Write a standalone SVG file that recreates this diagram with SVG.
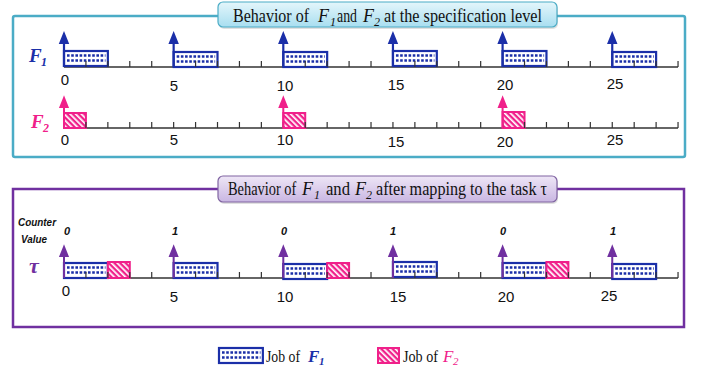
<svg xmlns="http://www.w3.org/2000/svg" xmlns:xlink="http://www.w3.org/1999/xlink" width="703" height="372" viewBox="0 0 703 372">
<style>
.axis{stroke:#333;stroke-width:1.6;fill:none}
.tick{stroke:#333;stroke-width:1.2;fill:none}
.f1box{fill:#fff;stroke:#1b2fa8;stroke-width:2.2}
.dots{stroke:#1b2fa8;stroke-width:2.4;stroke-dasharray:2.6 1.6;fill:none}
.f2box{fill:url(#hatch);stroke:#f0208a;stroke-width:2}
.num{font-family:"Liberation Sans",Arial,sans-serif;font-size:15px;fill:#111;text-anchor:middle}
.cnt{font-family:"Liberation Sans",Arial,sans-serif;font-size:11.5px;font-weight:bold;font-style:italic;fill:#111}
.cv{font-family:"Liberation Sans",Arial,sans-serif;font-size:11px;font-weight:bold;font-style:italic;fill:#111;text-anchor:middle}
.ttl{font-family:"Liberation Serif","Times New Roman",serif;font-size:18px;fill:#111}
.it{font-style:italic}
.sub{font-family:"Liberation Serif","Times New Roman",serif;font-size:12px;font-style:italic;fill:#111}
.lbl{font-family:"Liberation Serif","Times New Roman",serif;font-size:19px;font-style:italic;font-weight:bold}
.tau{font-family:"Liberation Serif","Times New Roman",serif;font-size:22px;font-style:italic;font-weight:bold;fill:#7030a0}
.lsub{font-family:"Liberation Serif","Times New Roman",serif;font-size:12px;font-style:italic;font-weight:bold}
.leg{font-family:"Liberation Serif","Times New Roman",serif;font-size:16px;fill:#111}
.legF{font-family:"Liberation Serif","Times New Roman",serif;font-size:17px;font-style:italic;font-weight:bold}
.legS{font-family:"Liberation Serif","Times New Roman",serif;font-size:11px;font-style:italic;font-weight:bold}
</style>
<defs>
<pattern id="hatch" patternUnits="userSpaceOnUse" width="4" height="4" patternTransform="rotate(-45)">
<rect width="4" height="4" fill="#f0208a"/>
<rect width="1.7" height="4" fill="#fff"/>
</pattern>
<linearGradient id="gTeal" x1="0" y1="0" x2="0" y2="1">
<stop offset="0" stop-color="#e4f6fb"/>
<stop offset="1" stop-color="#a8def0"/>
</linearGradient>
<linearGradient id="gPurp" x1="0" y1="0" x2="0" y2="1">
<stop offset="0" stop-color="#eee6f6"/>
<stop offset="1" stop-color="#c9b6e2"/>
</linearGradient>
<path id="ah" d="M0 0 L-3.6 9 L3.6 9 Z"/>
<path id="ticks" class="tick" d="M85.93 0v-6M107.86 0v-6M129.79 0v-6M151.72 0v-6M173.65 0v-6M195.58 0v-6M217.51 0v-6M239.44 0v-6M261.37 0v-6M283.3 0v-6M305.23 0v-6M327.16 0v-6M349.09 0v-6M371.02 0v-6M392.95 0v-6M414.88 0v-6M436.81 0v-6M458.74 0v-6M480.67 0v-6M502.6 0v-6M524.53 0v-6M546.46 0v-6M568.39 0v-6M590.32 0v-6M612.25 0v-6M634.18 0v-6M656.11 0v-6M678.04 0v-6"/>
<g id="f1job">
<rect class="f1box" x="0" y="0" width="43.86" height="15"/>
<path class="dots" d="M3 4.5H41.5M3 9.5H41.5"/>
</g>
</defs>

<!-- Top panel -->
<g id="panel-spec">
<rect x="13" y="16" width="672" height="141" rx="2" fill="#fff" stroke="#4bacc6" stroke-width="2.5"/>
</g>
<g id="title-spec">
<rect x="219" y="4" width="339" height="25" rx="5" fill="#000" opacity="0.12"/>
<rect x="218" y="2" width="339" height="25" rx="5" fill="url(#gTeal)" stroke="#4bacc6" stroke-width="1.2"/>
<text class="ttl" x="233" y="22" textLength="76" lengthAdjust="spacingAndGlyphs">Behavior of</text>
<text class="ttl it" x="318" y="22">F</text>
<text class="sub" x="330" y="26">1</text>
<text class="ttl" x="337" y="22" textLength="20" lengthAdjust="spacingAndGlyphs">and</text>
<text class="ttl it" x="363" y="22">F</text>
<text class="sub" x="374" y="26">2</text>
<text class="ttl" x="384" y="22" textLength="158" lengthAdjust="spacingAndGlyphs">at the specification level</text>
</g>

<g id="row-F1">
<text class="lbl" x="29" y="62" fill="#1b2fa8">F</text>
<text class="lsub" x="41" y="66" fill="#1b2fa8">1</text>
<line class="axis" x1="64" y1="67" x2="678" y2="67"/>
<use href="#f1job" x="64" y="51"/>
<use href="#f1job" x="173.65" y="52"/>
<use href="#f1job" x="283.3" y="52"/>
<use href="#f1job" x="392.95" y="51"/>
<use href="#f1job" x="502.6" y="51"/>
<use href="#f1job" x="612.25" y="52"/>
<use href="#ticks" y="67"/>
<g stroke="#1b2fa8" stroke-width="2.2" fill="#1b2fa8">
<path d="M64 67V42M173.65 67V42M283.3 67V42M392.95 67V42M502.6 67V42M612.25 67V42"/>
<use href="#ah" x="64" y="34"/><use href="#ah" x="173.65" y="34"/><use href="#ah" x="283.3" y="34"/><use href="#ah" x="392.95" y="34"/><use href="#ah" x="502.6" y="34"/><use href="#ah" x="612.25" y="34"/>
</g>
<text class="num" x="65" y="85">0</text>
<text class="num" x="174" y="91">5</text>
<text class="num" x="285" y="91">10</text>
<text class="num" x="396" y="90">15</text>
<text class="num" x="505" y="90">20</text>
<text class="num" x="615" y="89">25</text>
</g>

<g id="row-F2">
<text class="lbl" x="31" y="128" fill="#f0208a">F</text>
<text class="lsub" x="43" y="132" fill="#f0208a">2</text>
<line class="axis" x1="64" y1="128" x2="678" y2="128"/>
<rect class="f2box" x="64" y="113" width="21.93" height="15"/>
<rect class="f2box" x="283.3" y="113" width="21.93" height="15"/>
<rect class="f2box" x="502.6" y="112" width="21.93" height="16"/>
<use href="#ticks" y="128"/>
<g stroke="#f0208a" stroke-width="2" fill="#f0208a">
<path d="M64 128V106M283.3 128V106M502.6 128V106"/>
<use href="#ah" x="64" y="98"/><use href="#ah" x="283.3" y="98"/><use href="#ah" x="502.6" y="98"/>
</g>
<text class="num" x="65" y="145">0</text>
<text class="num" x="174" y="145">5</text>
<text class="num" x="285" y="145">10</text>
<text class="num" x="396" y="147">15</text>
<text class="num" x="505" y="147">20</text>
<text class="num" x="615" y="145">25</text>
</g>

<!-- Bottom panel -->
<g id="panel-task">
<rect x="13" y="189" width="671" height="138" fill="#fff" stroke="#7030a0" stroke-width="2.5"/>
</g>
<g id="title-task">
<rect x="219" y="178" width="339" height="26" rx="5" fill="#000" opacity="0.12"/>
<rect x="218" y="176" width="339" height="26" rx="5" fill="url(#gPurp)" stroke="#8064a2" stroke-width="1.2"/>
<text class="ttl" transform="translate(228 195) scale(0.8 1)" x="0" y="0">Behavior of</text>
<text class="ttl it" x="302" y="195">F</text>
<text class="sub" x="314" y="199">1</text>
<text class="ttl" x="326" y="195" textLength="24" lengthAdjust="spacingAndGlyphs">and</text>
<text class="ttl it" x="355" y="195">F</text>
<text class="sub" x="366" y="199">2</text>
<text class="ttl" x="376" y="195" textLength="171" lengthAdjust="spacingAndGlyphs">after mapping to the task τ</text>
</g>

<g id="row-tau">
<text class="cnt" x="18" y="226" textLength="38" lengthAdjust="spacingAndGlyphs">Counter</text>
<text class="cnt" x="21" y="243" textLength="26" lengthAdjust="spacingAndGlyphs">Value</text>
<text class="tau" x="29" y="273">τ</text>
<line class="axis" x1="64" y1="278" x2="678" y2="278"/>
<use href="#f1job" x="64" y="263"/>
<rect class="f2box" x="107.86" y="262" width="21.93" height="16"/>
<use href="#f1job" x="173.65" y="263"/>
<use href="#f1job" x="283.3" y="264"/>
<rect class="f2box" x="327.16" y="263" width="21.93" height="15"/>
<use href="#f1job" x="392.95" y="262"/>
<use href="#f1job" x="502.6" y="263"/>
<rect class="f2box" x="546.46" y="262" width="21.93" height="16"/>
<use href="#f1job" x="612.25" y="264"/>
<use href="#ticks" y="278"/>
<g stroke="#7030a0" stroke-width="2" fill="#7030a0">
<path d="M64 278V255M173.65 278V255M283.3 278V255M392.95 278V255M502.6 278V255M612.25 278V255"/>
<use href="#ah" x="64" y="247"/><use href="#ah" x="173.65" y="247"/><use href="#ah" x="283.3" y="247"/><use href="#ah" x="392.95" y="247"/><use href="#ah" x="502.6" y="247"/><use href="#ah" x="612.25" y="247"/>
</g>
<text class="cv" x="67" y="235">0</text>
<text class="cv" x="175" y="235">1</text>
<text class="cv" x="284" y="235">0</text>
<text class="cv" x="393" y="235">1</text>
<text class="cv" x="503" y="235">0</text>
<text class="cv" x="613" y="235">1</text>
<text class="num" x="66" y="296">0</text>
<text class="num" x="174" y="302">5</text>
<text class="num" x="285" y="302">10</text>
<text class="num" x="398" y="302">15</text>
<text class="num" x="506" y="302">20</text>
<text class="num" x="609" y="301">25</text>
</g>

<g id="legend">
<use href="#f1job" x="219" y="348"/>
<text class="leg" x="266" y="362" textLength="34" lengthAdjust="spacingAndGlyphs">Job of</text>
<text class="legF" x="308" y="362" fill="#1b2fa8">F</text>
<text class="legS" x="319" y="365" fill="#1b2fa8">1</text>
<rect class="f2box" x="378" y="348" width="21" height="15"/>
<text class="leg" x="403" y="362" textLength="35" lengthAdjust="spacingAndGlyphs">Job of</text>
<text class="legF" x="443" y="362" fill="#f0208a" style="font-weight:normal">F</text>
<text class="legS" x="453" y="365" fill="#f0208a" style="font-weight:normal">2</text>
</g>
</svg>
